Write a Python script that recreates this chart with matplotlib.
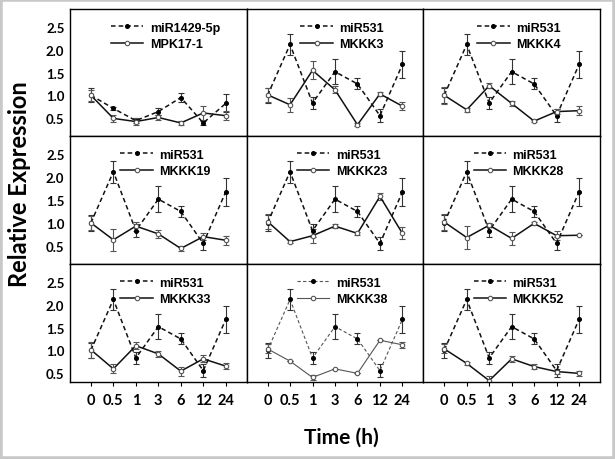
import matplotlib
matplotlib.use('Agg')
import matplotlib.pyplot as plt
from matplotlib.patches import Rectangle
from matplotlib.lines import Line2D

times = ['0', '0.5', '1', '3', '6', '12', '24']

mir531 = [1.0, 2.12, 0.83, 1.52, 1.25, 0.55, 1.68]
mir531_err = [0.17, 0.24, 0.14, 0.28, 0.12, 0.15, 0.30]
mir1429 = [1.0, 0.71, 0.44, 0.64, 0.95, 0.39, 0.82]
mir1429_err = [0.15, 0.03, 0.05, 0.08, 0.10, 0.05, 0.20]

mpk17 = [1.0, 0.49, 0.42, 0.51, 0.39, 0.61, 0.55]
mpk17_err = [0.12, 0.07, 0.08, 0.05, 0.05, 0.15, 0.10]
mkkk3 = [1.01, 0.79, 1.55, 1.12, 0.35, 1.03, 0.76]
mkkk3_err = [0.15, 0.15, 0.20, 0.08, 0.03, 0.04, 0.09]
mkkk4 = [1.0, 0.68, 1.21, 0.82, 0.43, 0.64, 0.66]
mkkk4_err = [0.19, 0.05, 0.06, 0.05, 0.03, 0.05, 0.10]
mkkk19 = [1.0, 0.63, 0.93, 0.76, 0.44, 0.70, 0.62]
mkkk19_err = [0.15, 0.24, 0.10, 0.08, 0.05, 0.07, 0.10]
mkkk23 = [1.03, 0.59, 0.72, 0.93, 0.77, 1.58, 0.77]
mkkk23_err = [0.17, 0.04, 0.15, 0.04, 0.04, 0.08, 0.13]
mkkk28 = [1.02, 0.68, 0.95, 0.66, 0.99, 0.72, 0.73]
mkkk28_err = [0.17, 0.26, 0.05, 0.15, 0.03, 0.10, 0.0]
mkkk33 = [1.01, 0.59, 1.10, 0.92, 0.54, 0.81, 0.65]
mkkk33_err = [0.18, 0.10, 0.08, 0.06, 0.10, 0.08, 0.06]
mkkk38 = [1.03, 0.76, 0.40, 0.59, 0.49, 1.22, 1.12]
mkkk38_err = [0.10, 0.0, 0.05, 0.0, 0.0, 0.0, 0.06]
mkkk52 = [1.03, 0.71, 0.33, 0.81, 0.64, 0.53, 0.49]
mkkk52_err = [0.10, 0.04, 0.10, 0.06, 0.06, 0.05, 0.06]

panels = [
    ('miR1429-5p', mir1429, mir1429_err, 'MPK17-1', mpk17, mpk17_err),
    ('miR531', mir531, mir531_err, 'MKKK3', mkkk3, mkkk3_err),
    ('miR531', mir531, mir531_err, 'MKKK4', mkkk4, mkkk4_err),
    ('miR531', mir531, mir531_err, 'MKKK19', mkkk19, mkkk19_err),
    ('miR531', mir531, mir531_err, 'MKKK23', mkkk23, mkkk23_err),
    ('miR531', mir531, mir531_err, 'MKKK28', mkkk28, mkkk28_err),
    ('miR531', mir531, mir531_err, 'MKKK33', mkkk33, mkkk33_err),
    ('miR531', mir531, mir531_err, 'MKKK38', mkkk38, mkkk38_err),
    ('miR531', mir531, mir531_err, 'MKKK52', mkkk52, mkkk52_err),
]

fig = plt.figure(figsize=(6.15, 4.6), dpi=100)
gs = fig.add_gridspec(3, 3, left=0.1138, right=0.9756, top=0.978, bottom=0.1674,
                      wspace=0, hspace=0, height_ratios=[127, 128, 118])

dash = (0, (3, 2))
x = list(range(len(times)))
for i, (n1, y1, e1, n2, y2, e2) in enumerate(panels):
    r, c = divmod(i, 3)
    ax = fig.add_subplot(gs[r, c])
    col = '#555555' if n2 == 'MKKK38' else '#111111'
    lw = 0.8 if n2 == 'MKKK38' else 1.1
    ax.errorbar(x, y1, yerr=e1, color=col, ls=dash, lw=lw, marker='o', ms=2.6,
                mfc='black', mec='black', ecolor='#333333', elinewidth=0.8,
                capsize=2, capthick=0.8)
    ax.errorbar(x, y2, yerr=e2, color=col, ls='-', lw=lw, marker='o', ms=3.2,
                mfc='white', mec='#555555', mew=0.8, ecolor='#555555',
                elinewidth=0.8, capsize=2, capthick=0.8)
    ax.set_xlim(-0.93, 6.93)
    ax.set_ylim(0.3 if r == 2 else 0.1, 2.9)
    ax.set_yticks([0.5, 1.0, 1.5, 2.0, 2.5])
    ax.set_xticks(x)
    if c == 0:
        ax.set_yticklabels(['0.5', '1.0', '1.5', '2.0', '2.5'], family='Lato',
                           weight='bold', fontsize=9.5)
        ax.tick_params(axis='y', length=0, pad=4)
    else:
        ax.tick_params(axis='y', left=False, labelleft=False)
    if r == 2:
        ax.set_xticklabels(times, family='Lato', weight='bold', fontsize=10.5)
        ax.tick_params(axis='x', length=3, width=0.8, pad=5)
    else:
        ax.tick_params(axis='x', bottom=False, labelbottom=False)
    for s in ax.spines.values():
        s.set_linewidth(1.0)
    handles = [
        Line2D([], [], color=col, ls=dash, lw=lw, marker='o', ms=2.6,
               mfc='black', mec='black'),
        Line2D([], [], color=col, ls='-', lw=lw, marker='o', ms=3.2,
               mfc='white', mec='#555555', mew=0.8),
    ]
    ax.legend(handles, [n1, n2], loc='upper center', bbox_to_anchor=(0.54, 1.0),
              frameon=False,
              prop={'family': 'Liberation Sans', 'weight': 'bold', 'size': 9},
              handlelength=2.6, handletextpad=0.5, labelspacing=0.35,
              borderaxespad=0.6)

fig.text(0.032, 0.6, 'Relative Expression', rotation=90, ha='center', va='center',
         family='Lato', weight='bold', fontsize=17)
fig.text(0.555, 0.048, 'Time (h)', ha='center', va='center', family='Lato',
         weight='bold', fontsize=15)

fig.patches.append(Rectangle((0, 0), 1, 1, transform=fig.transFigure, fill=False,
                             edgecolor='#c8c8c8', linewidth=4))
fig.savefig('out.png', dpi=100)
